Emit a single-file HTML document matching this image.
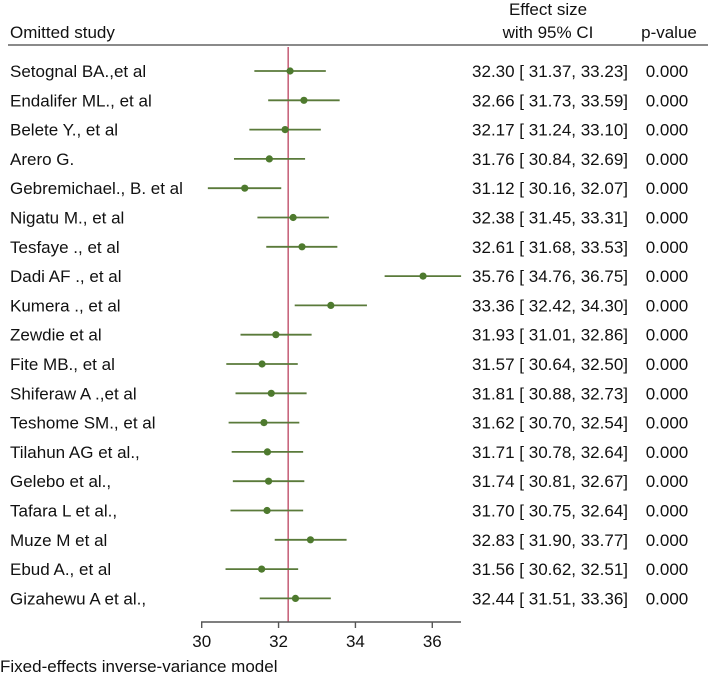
<!DOCTYPE html>
<html><head><meta charset="utf-8"><style>
body{margin:0;background:#fff;}
svg text{font-family:"Liberation Sans",Arial,sans-serif;fill:#111;}
</style></head><body>
<svg id="c" width="708" height="677" xmlns="http://www.w3.org/2000/svg">
<text x="10" y="38" font-size="17">Omitted study</text>
<text x="548" y="15" font-size="17" text-anchor="middle">Effect size</text>
<text x="548" y="38" font-size="17" text-anchor="middle">with 95% CI</text>
<text x="669" y="38" font-size="17" text-anchor="middle">p-value</text>
<line x1="8" x2="708" y1="45" y2="45" stroke="#444" stroke-width="1.2"/>
<g id="rows"></g>
<text x="0" y="672" font-size="17">Fixed-effects inverse-variance model</text>
</svg>
<script>
const studies=["Setognal BA.,et al","Endalifer ML., et al","Belete Y., et al","Arero G.","Gebremichael., B. et al","Nigatu M., et al","Tesfaye ., et al","Dadi AF ., et al","Kumera ., et al","Zewdie et al","Fite MB.,  et al","Shiferaw A .,et al","Teshome SM., et al","Tilahun AG et al.,","Gelebo et al.,","Tafara L et al.,","Muze M et al","Ebud A., et al","Gizahewu A et al.,"];
const est=[32.30,32.66,32.17,31.76,31.12,32.38,32.61,35.76,33.36,31.93,31.57,31.81,31.62,31.71,31.74,31.70,32.83,31.56,32.44];
const lo=[31.37,31.73,31.24,30.84,30.16,31.45,31.68,34.76,32.42,31.01,30.64,30.88,30.70,30.78,30.81,30.75,31.90,30.62,31.51];
const hi=[33.23,33.59,33.10,32.69,32.07,33.31,33.53,36.75,34.30,32.86,32.50,32.73,32.54,32.64,32.67,32.64,33.77,32.51,33.36];
const pval=["0.000","0.000","0.000","0.000","0.000","0.000","0.000","0.000","0.000","0.000","0.000","0.000","0.000","0.000","0.000","0.000","0.000","0.000","0.000"];
const ticks=[30,32,34,36];
const overall=32.25;
const NS="http://www.w3.org/2000/svg",g=document.getElementById('rows');
const xs=v=>201.7+(v-30)*38.43;
const ys=i=>71+i*29.3;
function mk(t,a){const e=document.createElementNS(NS,t);for(const k in a)e.setAttribute(k,a[k]);g.appendChild(e);return e;}
const axisY=622;
const ol=mk('line',{x1:xs(overall),x2:xs(overall),y1:47,y2:axisY,stroke:'#c0506a','stroke-width':1.4});


studies.forEach((s,i)=>{
 const y=ys(i);
 const t=mk('text',{x:10,y:y+6,'font-size':17});t.textContent=s;
 
 
 const l=mk('line',{x1:xs(lo[i]),x2:xs(hi[i]),y1:y,y2:y,stroke:'#5a7a3a','stroke-width':1.8});
 
 
 const c=mk('circle',{cx:xs(est[i]),cy:y,r:3.6,fill:'#4e7a2e'});
 
 
 const v=mk('text',{x:628,y:y+6,'font-size':17,'text-anchor':'end'});
 v.textContent=est[i].toFixed(2)+' [ '+lo[i].toFixed(2)+',  '+hi[i].toFixed(2)+']';
 
 
 const p=mk('text',{x:667,y:y+6,'font-size':17,'text-anchor':'middle'});p.textContent=pval[i];
 
 
});
const ax=mk('line',{x1:201,x2:461,y1:axisY,y2:axisY,stroke:'#555','stroke-width':1.4});


ticks.forEach(t=>{
 const tk=mk('line',{x1:xs(t),x2:xs(t),y1:axisY,y2:axisY+6,stroke:'#555','stroke-width':1.4});
 
 
 const tl=mk('text',{x:xs(t),y:axisY+25,'font-size':17,'text-anchor':'middle'});tl.textContent=t;
 
 
});
</script>
</body></html>
